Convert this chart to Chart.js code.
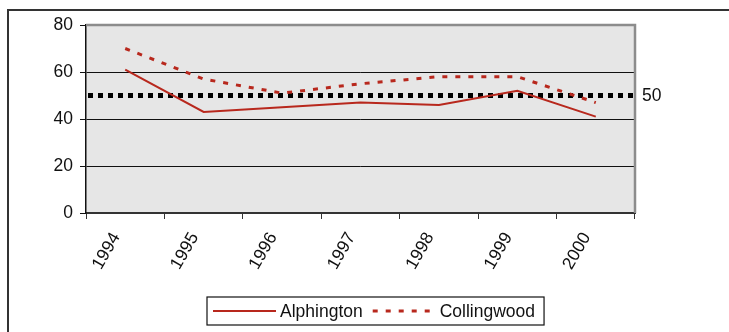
<!DOCTYPE html>
<html>
<head>
<meta charset="utf-8">
<script src="https://cdn.jsdelivr.net/npm/chart.js@4/dist/chart.umd.min.js"></script>
<style>
  html, body { margin: 0; padding: 0; background: #fff; }
  canvas { display: block; }
</style>
</head>
<body>
<canvas id="c" width="729" height="332"></canvas>
<script>
// Survey years and the two suburbs' scores
const years = ['1994', '1995', '1996', '1997', '1998', '1999', '2000'];
const alphington = [61, 43, 45, 47, 46, 52, 41];
const collingwood = [70, 57, 51, 55, 58, 58, 47];
const benchmark = 50;
const yTickValues = [0, 20, 40, 60, 80];

const RED = '#b8281d';
const FONT = { family: '"Liberation Sans", Arial, sans-serif', size: 17.5 };
const fontStr = FONT.size + 'px ' + FONT.family;

const decorations = {
  id: 'decorations',
  beforeDraw(chart) {
    const { ctx, chartArea: a } = chart;
    ctx.save();
    ctx.fillStyle = '#ffffff';
    ctx.fillRect(0, 0, chart.width, chart.height);
    ctx.fillStyle = '#e6e6e6';
    ctx.fillRect(a.left, a.top, a.right - a.left, a.bottom - a.top);
    ctx.restore();
  },
  beforeDatasetsDraw(chart) {
    // dotted benchmark line across the whole plot
    const { ctx, chartArea: a, scales } = chart;
    const y = scales.y.getPixelForValue(benchmark);
    ctx.save();
    ctx.strokeStyle = '#000';
    ctx.lineWidth = 5;
    ctx.setLineDash([5, 5]);
    ctx.beginPath();
    ctx.moveTo(a.left + 2, y);
    ctx.lineTo(a.right, y);
    ctx.stroke();
    ctx.restore();
  },
  afterDraw(chart) {
    const { ctx, chartArea: a, scales } = chart;
    ctx.save();
    // plot frame (top and right)
    ctx.strokeStyle = '#8c8c8c';
    ctx.lineWidth = 2.5;
    ctx.beginPath();
    ctx.moveTo(a.left, a.top);
    ctx.lineTo(a.right, a.top);
    ctx.lineTo(a.right, a.bottom);
    ctx.stroke();

    // benchmark value label
    ctx.fillStyle = '#111';
    ctx.font = fontStr;
    ctx.textAlign = 'left';
    ctx.textBaseline = 'middle';
    ctx.fillText(String(benchmark), a.right + 7, scales.y.getPixelForValue(benchmark) + 1);

    // outer frame
    ctx.strokeStyle = '#333';
    ctx.lineWidth = 2;
    ctx.beginPath();
    ctx.moveTo(8, chart.height + 2);
    ctx.lineTo(8, 10);
    ctx.lineTo(chart.width + 2, 10);
    ctx.stroke();

    // legend
    const sets = chart.data.datasets;
    const sample = 63, gapText = 4, gapItem = 10, pad = 6;
    ctx.font = fontStr;
    const widths = sets.map(d => ctx.measureText(d.label).width);
    let total = pad;
    widths.forEach((w, i) => { total += sample + gapText + w + (i < widths.length - 1 ? gapItem : 0); });
    total += 9;
    const bx = 207, by = 297, bh = 28;
    ctx.strokeStyle = '#111';
    ctx.lineWidth = 1.2;
    ctx.strokeRect(bx, by, total, bh);
    let x = bx + pad;
    const cy = by + bh / 2;
    sets.forEach((d, i) => {
      ctx.strokeStyle = d.borderColor;
      ctx.lineWidth = d.borderWidth;
      ctx.setLineDash(d.borderDash || []);
      ctx.beginPath();
      ctx.moveTo(x, cy);
      ctx.lineTo(x + sample, cy);
      ctx.stroke();
      ctx.setLineDash([]);
      x += sample + gapText;
      ctx.fillStyle = '#111';
      ctx.textAlign = 'left';
      ctx.textBaseline = 'middle';
      ctx.fillText(d.label, x, cy + 1);
      x += widths[i] + gapItem;
    });
    ctx.restore();
  }
};

new Chart(document.getElementById('c'), {
  type: 'line',
  data: {
    labels: years,
    datasets: [
      {
        label: 'Alphington',
        data: alphington,
        borderColor: RED,
        borderWidth: 2,
        pointRadius: 0,
        tension: 0
      },
      {
        label: 'Collingwood',
        data: collingwood,
        borderColor: RED,
        borderWidth: 3,
        borderDash: [5, 8],
        pointRadius: 0,
        tension: 0
      }
    ]
  },
  options: {
    responsive: false,
    devicePixelRatio: 1,
    animation: false,
    layout: { padding: { top: 25, right: 94, bottom: 0, left: 0 } },
    plugins: { legend: { display: false }, tooltip: { enabled: false } },
    scales: {
      x: {
        type: 'category',
        offset: true,
        grid: { offset: true, drawOnChartArea: false, drawTicks: true, tickLength: 6, color: '#333', lineWidth: 1 },
        border: { color: '#333', width: 2 },
        ticks: { minRotation: 60, maxRotation: 60, padding: 10, labelOffset: -9, color: '#111', font: FONT },
        afterFit(s) { s.height = 119; }
      },
      y: {
        min: 0,
        max: 80,
        afterBuildTicks(s) { s.ticks = yTickValues.map(v => ({ value: v })); },
        grid: { color: '#111', lineWidth: 1, tickLength: 6 },
        border: { color: '#111', width: 1.5 },
        ticks: { padding: 7, color: '#111', font: FONT },
        afterFit(s) { s.width = 86; }
      }
    }
  },
  plugins: [decorations]
});
</script>
</body>
</html>
